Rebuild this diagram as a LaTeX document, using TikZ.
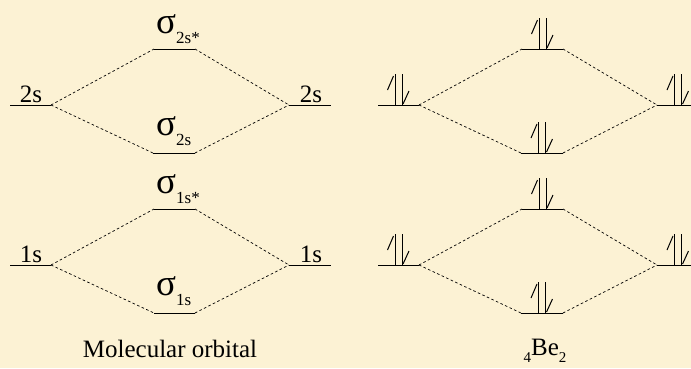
\documentclass[tikz,border=0pt]{standalone}
\usepackage{fontspec}
\setmainfont{Liberation Serif}
\newfontfamily\timesfont{Liberation Serif}
\usetikzlibrary{calc}
\definecolor{parchment}{RGB}{252,242,212}

\newcommand\molab[1]{{\fontsize{37}{38}\selectfont σ}\raisebox{-10pt}{\fontsize{17}{18}\selectfont #1}}

\tikzset{
  level/.style={line width=1pt},
  link/.style={line width=0.7pt, dash pattern=on 2.6pt off 2.4pt},
  lbl/.style={inner sep=0pt, anchor=base, font=\timesfont\fontsize{25}{27}\selectfont},
  siglbl/.style={inner sep=0pt, anchor=base west, font=\timesfont},
  spinpair/.pic={
    % up harpoon (barb left) and down harpoon (barb right)
    \draw[line width=1pt] (-3.5,0) -- (-3.5,-31);
    \draw[line width=1pt] (-5,-29) -- (-11,-15);
    \draw[line width=1pt] (3.5,0) -- (3.5,-31);
    \draw[line width=1pt] (4.5,-1) -- (10.5,-14);
  }
}

\begin{document}
\begin{tikzpicture}[x=1pt, y=-1pt, line cap=butt]
  \fill[parchment] (0,0) rectangle (691,368);
  \useasboundingbox (0,0) rectangle (691,368);

  % --- molecular orbital diagram (left) ---
  \coordinate (M-2sL-a) at (10,105);   \coordinate (M-2sL-b) at (51,105);
  \coordinate (M-2sR-a) at (289,105);  \coordinate (M-2sR-b) at (331,105);
  \coordinate (M-s2x-a) at (154,49);   \coordinate (M-s2x-b) at (195,49);
  \coordinate (M-s2-a) at (153,153);   \coordinate (M-s2-b) at (195,153);
  \coordinate (M-1sL-a) at (10,265);   \coordinate (M-1sL-b) at (51,265);
  \coordinate (M-1sR-a) at (289,265);  \coordinate (M-1sR-b) at (331,265);
  \coordinate (M-s1x-a) at (154,209);  \coordinate (M-s1x-b) at (195,209);
  \coordinate (M-s1-a) at (154,313);   \coordinate (M-s1-b) at (195,313);

  % --- Be2 filling (right, same levels shifted) ---
  \coordinate (B-2sL-a) at (378,105);  \coordinate (B-2sL-b) at (419,105);
  \coordinate (B-2sR-a) at (657,105);  \coordinate (B-2sR-b) at (699,105);
  \coordinate (B-s2x-a) at (522,49);   \coordinate (B-s2x-b) at (563,49);
  \coordinate (B-s2-a) at (521,153);   \coordinate (B-s2-b) at (563,153);
  \coordinate (B-1sL-a) at (378,265);  \coordinate (B-1sL-b) at (419,265);
  \coordinate (B-1sR-a) at (657,265);  \coordinate (B-1sR-b) at (699,265);
  \coordinate (B-s1x-a) at (522,209);  \coordinate (B-s1x-b) at (563,209);
  \coordinate (B-s1-a) at (521,313);   \coordinate (B-s1-b) at (563,313);

  % === energy levels ===
  \draw[level] (M-2sL-a) -- (M-2sL-b);  \draw[level] (M-2sR-a) -- (M-2sR-b);
  \draw[level] (M-s2x-a) -- (M-s2x-b);  \draw[level] (M-s2-a) -- (M-s2-b);
  \draw[level] (M-1sL-a) -- (M-1sL-b);  \draw[level] (M-1sR-a) -- (M-1sR-b);
  \draw[level] (M-s1x-a) -- (M-s1x-b);  \draw[level] (M-s1-a) -- (M-s1-b);

  \draw[level] (B-2sL-a) -- (B-2sL-b);  \draw[level] (B-2sR-a) -- (B-2sR-b);
  \draw[level] (B-s2x-a) -- (B-s2x-b);  \draw[level] (B-s2-a) -- (B-s2-b);
  \draw[level] (B-1sL-a) -- (B-1sL-b);  \draw[level] (B-1sR-a) -- (B-1sR-b);
  \draw[level] (B-s1x-a) -- (B-s1x-b);  \draw[level] (B-s1-a) -- (B-s1-b);

  % === correlation lines (dashed) ===
  \draw[link] (M-2sL-b) -- (M-s2x-a);  \draw[link] (M-s2x-b) -- (M-2sR-a);
  \draw[link] (M-2sL-b) -- (M-s2-a);   \draw[link] (M-s2-b) -- (M-2sR-a);
  \draw[link] (M-1sL-b) -- (M-s1x-a);  \draw[link] (M-s1x-b) -- (M-1sR-a);
  \draw[link] (M-1sL-b) -- (M-s1-a);   \draw[link] (M-s1-b) -- (M-1sR-a);

  \draw[link] (B-2sL-b) -- (B-s2x-a);  \draw[link] (B-s2x-b) -- (B-2sR-a);
  \draw[link] (B-2sL-b) -- (B-s2-a);   \draw[link] (B-s2-b) -- (B-2sR-a);
  \draw[link] (B-1sL-b) -- (B-s1x-a);  \draw[link] (B-s1x-b) -- (B-1sR-a);
  \draw[link] (B-1sL-b) -- (B-s1-a);   \draw[link] (B-s1-b) -- (B-1sR-a);

  % === labels ===
  \node[lbl] (t-2sL) at (31,102) {2s};
  \node[lbl] (t-2sR) at (311,102) {2s};
  \node[lbl] (t-1sL) at (31,262) {1s};
  \node[lbl] (t-1sR) at (311,262) {1s};
  \node[siglbl] (t-s2x) at (156,33) {\molab{2s*}};
  \node[siglbl] (t-s2) at (156,135) {\molab{2s}};
  \node[siglbl] (t-s1x) at (156,193) {\molab{1s*}};
  \node[siglbl] (t-s1) at (156,295) {\molab{1s}};
  \node[lbl] (t-mo) at (170,357) {Molecular orbital};
  \node[lbl] (t-be) at (545,355)
    {\raisebox{-7pt}{\fontsize{15}{16}\selectfont 4}Be\raisebox{-7pt}{\fontsize{15}{16}\selectfont 2}};

  % === electron pairs ===
  \pic at ($(B-2sL-a)!0.5!(B-2sL-b)$) {spinpair};
  \pic at ($(B-2sR-a)!0.5!(B-2sR-b)$) {spinpair};
  \pic at ($(B-s2x-a)!0.5!(B-s2x-b)$) {spinpair};
  \pic at ($(B-s2-a)!0.5!(B-s2-b)$) {spinpair};
  \pic at ($(B-1sL-a)!0.5!(B-1sL-b)$) {spinpair};
  \pic at ($(B-1sR-a)!0.5!(B-1sR-b)$) {spinpair};
  \pic at ($(B-s1x-a)!0.5!(B-s1x-b)$) {spinpair};
  \pic at ($(B-s1-a)!0.5!(B-s1-b)$) {spinpair};
\end{tikzpicture}
\end{document}
